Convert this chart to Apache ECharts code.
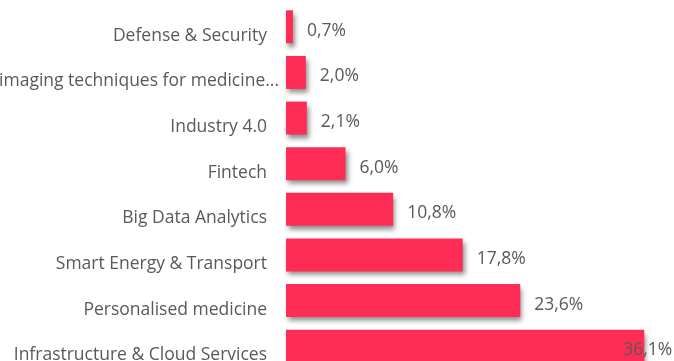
<!DOCTYPE html>
<html>
<head>
<meta charset="utf-8">
<style>
  html, body { margin: 0; padding: 0; background: #ffffff; }
  #chart { width: 674px; height: 361px; }
</style>
<script src="https://cdn.jsdelivr.net/npm/echarts@6/dist/echarts.min.js"></script>
</head>
<body>
<div id="chart"></div>
<script>
// Share of projects by technology area (%), listed top to bottom
const categories = [
  'Defense & Security',
  'imaging techniques for medicine...',
  'Industry 4.0',
  'Fintech',
  'Big Data Analytics',
  'Smart Energy & Transport',
  'Personalised medicine',
  'Infrastructure & Cloud Services'
];
const shares = [0.7, 2.0, 2.1, 6.0, 10.8, 17.8, 23.6, 36.1];

const fmt = v => v.toFixed(1).replace('.', ',') + '%';
const textColor = '#595959';
const font = 'Open Sans';

const chart = echarts.init(document.getElementById('chart'), null, { renderer: 'canvas' });

const barData = shares.map((v, i) => {
  const item = { value: v };
  // the longest bar carries its label over its own end
  if (i === shares.length - 1) {
    item.label = { distance: -21 };
  }
  return item;
});

const labelStyle = {
  color: textColor,
  fontFamily: font,
  fontSize: 17.5,
  padding: [18, 0, 0, 0]
};

chart.setOption({
  animation: false,
  backgroundColor: '#ffffff',
  // the plot runs past the bottom edge, so the last bar is cut off
  grid: {
    left: 286, top: 4, width: 397, height: 365,
    containLabel: false,
    outerBoundsMode: 'none'
  },
  xAxis: {
    type: 'value',
    min: 0,
    max: 40,
    show: false
  },
  yAxis: {
    type: 'category',
    inverse: true,
    data: categories,
    axisLine: { show: false },
    axisTick: { show: false },
    splitLine: { show: false },
    axisLabel: {
      margin: 19,
      // the truncated label's ellipsis hangs past the common right edge
      formatter: v => (v.endsWith('...') ? '{e|' : '{t|') + v + '}',
      rich: {
        t: labelStyle,
        e: Object.assign({}, labelStyle, { padding: [18, -12, 0, 0] })
      }
    }
  },
  series: [{
    type: 'bar',
    data: barData,
    barWidth: 33,
    itemStyle: {
      color: '#FF2D55',
      shadowColor: 'rgba(0,0,0,0.45)',
      shadowBlur: 5,
      shadowOffsetX: 2,
      shadowOffsetY: 4
    },
    label: {
      show: true,
      position: 'right',
      distance: 14,
      offset: [0, 4],
      color: textColor,
      fontFamily: font,
      fontSize: 17.5,
      formatter: p => fmt(p.value)
    }
  }]
});
</script>
</body>
</html>
